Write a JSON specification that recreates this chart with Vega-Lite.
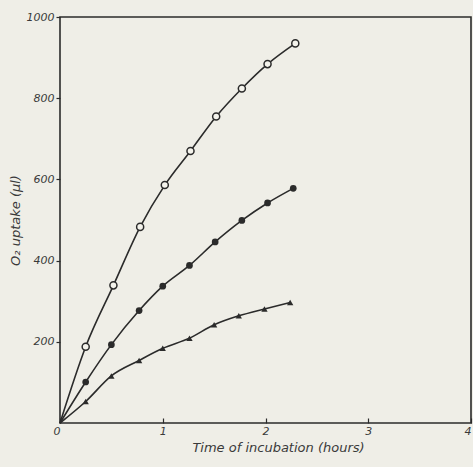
{
  "$schema": "https://vega.github.io/schema/vega-lite/v6.json",
  "width": 411,
  "height": 406,
  "autosize": "none",
  "padding": {"left": 60, "top": 17, "right": 2, "bottom": 44},
  "background": "#efeee7",
  "config": {
    "view": {"stroke": "#2b2b2b", "strokeWidth": 1.6},
    "axis": {
      "grid": false,
      "domain": false,
      "tickColor": "#2b2b2b",
      "tickSize": 5,
      "tickWidth": 1.2,
      "labelFont": "DejaVu Sans",
      "labelFontStyle": "italic",
      "labelFontSize": 11,
      "labelColor": "#3a3a3a",
      "titleFont": "DejaVu Sans",
      "titleFontStyle": "italic",
      "titleFontWeight": "normal",
      "titleFontSize": 13,
      "titleColor": "#3a3a3a"
    }
  },
  "datasets": {
    "pts": [
      {"s": "open", "t": 0, "v": 0},
      {"s": "open", "t": 0.25, "v": 188},
      {"s": "open", "t": 0.52, "v": 339},
      {"s": "open", "t": 0.78, "v": 483},
      {"s": "open", "t": 1.02, "v": 586},
      {"s": "open", "t": 1.27, "v": 670},
      {"s": "open", "t": 1.52, "v": 755},
      {"s": "open", "t": 1.77, "v": 824},
      {"s": "open", "t": 2.02, "v": 884},
      {"s": "open", "t": 2.29, "v": 935},
      {"s": "filled", "t": 0, "v": 0},
      {"s": "filled", "t": 0.25, "v": 101},
      {"s": "filled", "t": 0.5, "v": 193},
      {"s": "filled", "t": 0.77, "v": 277},
      {"s": "filled", "t": 1.0, "v": 337},
      {"s": "filled", "t": 1.26, "v": 388},
      {"s": "filled", "t": 1.51, "v": 446},
      {"s": "filled", "t": 1.77, "v": 499},
      {"s": "filled", "t": 2.02, "v": 542},
      {"s": "filled", "t": 2.27, "v": 578},
      {"s": "tri", "t": 0, "v": 0},
      {"s": "tri", "t": 0.25, "v": 53},
      {"s": "tri", "t": 0.5, "v": 116},
      {"s": "tri", "t": 0.77, "v": 154},
      {"s": "tri", "t": 1.0, "v": 184},
      {"s": "tri", "t": 1.26, "v": 209},
      {"s": "tri", "t": 1.5, "v": 242},
      {"s": "tri", "t": 1.74, "v": 264},
      {"s": "tri", "t": 1.99, "v": 281},
      {"s": "tri", "t": 2.24, "v": 297}
    ]
  },
  "data": {"name": "pts"},
  "encoding": {
    "x": {
      "field": "t", "type": "quantitative",
      "scale": {"domain": [0, 4], "nice": false},
      "axis": {
        "values": [0, 1, 2, 3, 4],
        "title": "Time of incubation (hours)",
        "titlePadding": 5,
        "titleX": 218,
        "labelPadding": 7,
        "tickSize": -5,
        "labelFlush": false,
        "labelAlign": {"condition": {"test": "datum.value == 4 || datum.value == 0", "value": "right"}, "value": "center"}
      }
    },
    "y": {
      "field": "v", "type": "quantitative",
      "scale": {"domain": [0, 1000], "nice": false},
      "axis": {"values": [200, 400, 600, 800, 1000], "format": "d", "title": "O₂ uptake (µl)", "titlePadding": 4, "tickSize": 4, "labelPadding": 2}
    }
  },
  "layer": [
    {
      "mark": {"type": "line", "interpolate": "monotone", "color": "#2b2b2b", "strokeWidth": 1.6},
      "encoding": {"detail": {"field": "s"}}
    },
    {
      "transform": [{"filter": "datum.t > 0 && datum.s == 'open'"}],
      "mark": {"type": "point", "shape": "circle", "size": 50, "filled": true, "fill": "#f4f3ec", "stroke": "#2b2b2b", "strokeWidth": 1.5, "opacity": 1}
    },
    {
      "transform": [{"filter": "datum.t > 0 && datum.s == 'filled'"}],
      "mark": {"type": "point", "shape": "circle", "size": 45, "filled": true, "color": "#2b2b2b", "opacity": 1}
    },
    {
      "transform": [{"filter": "datum.t > 0 && datum.s == 'tri'"}],
      "mark": {"type": "point", "shape": "triangle-up", "size": 40, "filled": true, "color": "#2b2b2b", "opacity": 1}
    }
  ]
}
